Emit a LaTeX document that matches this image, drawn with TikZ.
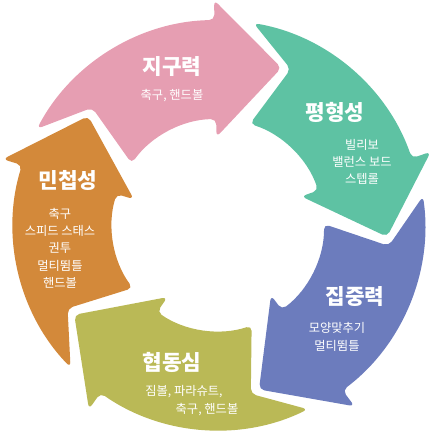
\documentclass[tikz,border=0pt]{standalone}
\usepackage{fontspec}
\newfontfamily\kor{Noto Sans CJK KR}
\usepackage{tikz}
\definecolor{jiguPink}{RGB}{230,158,178}
\definecolor{pyeongGreen}{RGB}{94,194,163}
\definecolor{jipBlue}{RGB}{108,124,189}
\definecolor{hyeopOlive}{RGB}{186,185,86}
\definecolor{minOrange}{RGB}{211,137,58}

\begin{document}
\begin{tikzpicture}[x=0.75pt,y=0.75pt,
    bigtxt/.style={text=white,font=\kor\bfseries\fontsize{16}{19}\selectfont,inner sep=0pt},
    smalltxt/.style={text=white,font=\kor\fontsize{9.2}{13}\selectfont,align=center,inner sep=0pt}]
    \useasboundingbox (-218,-208) rectangle (218,225);
    \fill [jiguPink, rounded corners=4] (152:205) arc [start angle=152, end angle=91, radius=205]
        -- (91:225) -- (68:169.5) -- (91:88) -- (91:106) arc [start angle=91, end angle=144.5, radius=106]
        -- (137:172) -- cycle;
    \fill [pyeongGreen, rounded corners=4] (80:205) arc [start angle=80, end angle=19, radius=205]
        -- (19:225) -- (-4:169.5) -- (19:88) -- (19:106) arc [start angle=19, end angle=72.5, radius=106]
        -- (65:172) -- cycle;
    \fill [jipBlue, rounded corners=4] (8:207) arc [start angle=8, end angle=-53, radius=207]
        -- (-53:227) -- (-76:169.5) -- (-53:88) -- (-53:106) arc [start angle=-53, end angle=0.5, radius=106]
        -- (-7:172) -- cycle;
    \fill [hyeopOlive, rounded corners=4] (-64:205) arc [start angle=-64, end angle=-125, radius=205]
        -- (-125:225) -- (-148:169.5) -- (-125:88) -- (-125:106) arc [start angle=-125, end angle=-71.5, radius=106]
        -- (-79:172) -- cycle;
    \fill [minOrange, rounded corners=4] (-136:205) arc [start angle=-136, end angle=-197, radius=205]
        -- (-197:225) -- (-220:169.5) -- (-197:88) -- (-197:106) arc [start angle=-197, end angle=-143.5, radius=106]
        -- (-151:172) -- cycle;
    \node [bigtxt] (jigu) at (-46,158) {지구력};
    \node [smalltxt] (jigu sub) at (-46,129) {축구, 핸드볼};
    \node [bigtxt] (pyeong) at (117,113) {평형성};
    \node [smalltxt] (pyeong sub) at (144,63) {빌리보\\밸런스 보드\\스텝롤};
    \node [bigtxt] (jip) at (137,-72) {집중력};
    \node [smalltxt] (jip sub) at (119,-112) {모양맞추기\\멀티뜀틀};
    \node [bigtxt] (hyeop) at (-46,-137) {협동심};
    \node [smalltxt] (hyeop sub1) at (-34,-167) {짐볼, 파라슈트,};
    \node [smalltxt] (hyeop sub2) at (-11,-185) {축구, 핸드볼};
    \node [bigtxt] (min) at (-150,45) {민첩성};
    \node [smalltxt] (min sub) at (-158,-23) {축구\\스피드 스태스\\권투\\멀티뜀틀\\핸드볼};
\end{tikzpicture}
\end{document}
